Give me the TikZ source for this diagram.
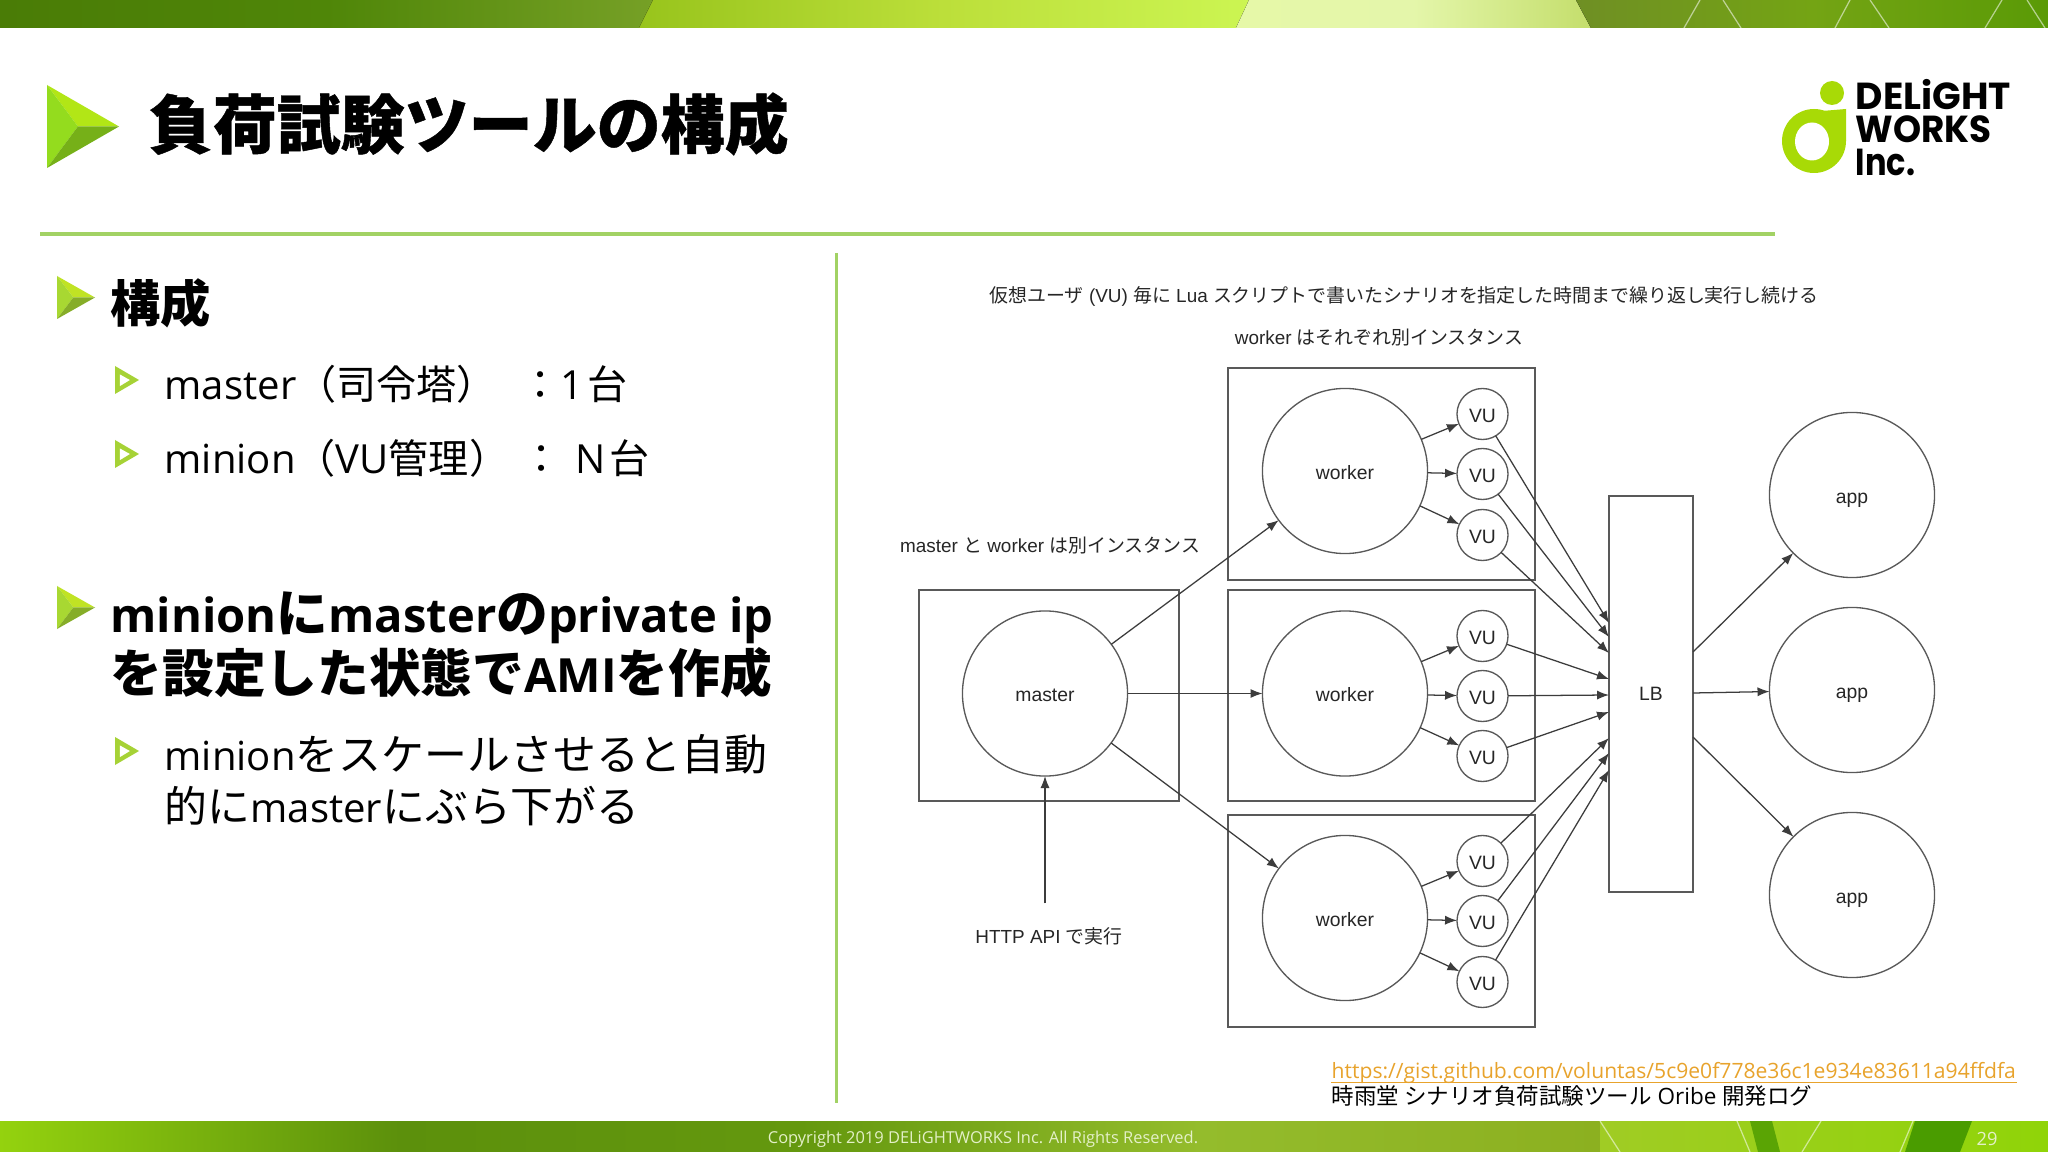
\documentclass[tikz,border=0pt]{standalone}
\usepackage{fontspec}
\usepackage{xcolor}
\usetikzlibrary{arrows.meta}
\usetikzlibrary{calc}
\setmainfont{Open Sans}
\newfontfamily\cjk{Noto Sans CJK JP}
\newfontfamily\titlecjk[BoldFeatures={FakeBold=0.7}]{Noto Sans CJK JP}
\newfontfamily\diagfont{Liberation Sans}
\newfontfamily\logofont{Poppins}
\newcommand{\jp}[1]{{\cjk #1}}
\newcommand{\hjp}[1]{{\cjk\fontsize{14.7pt}{17pt}\selectfont #1}}
\newcommand{\ijp}[1]{{\cjk\fontsize{12.2pt}{14.8pt}\selectfont #1}}
\definecolor{rulegreen}{HTML}{A2D264}
\definecolor{logogreen}{HTML}{A8DA06}
\definecolor{linkorange}{HTML}{E8A32C}
\definecolor{diagink}{HTML}{3C3C3C}
\definecolor{labelink}{HTML}{262626}
\definecolor{titlegem}{HTML}{94DC1E}
\definecolor{headgem}{HTML}{A8D832}
\definecolor{itemgem}{HTML}{A6D236}
\definecolor{footink}{HTML}{E4F0C8}
\definecolor{topa}{HTML}{4A7C06}
\definecolor{topb}{HTML}{4F8608}
\definecolor{topc}{HTML}{76A026}
\definecolor{topd}{HTML}{98C41C}
\definecolor{tope}{HTML}{BCDF3A}
\definecolor{topf}{HTML}{CCF552}
\definecolor{topg}{HTML}{E6F8A8}
\definecolor{toph}{HTML}{E4F6AA}
\definecolor{topi}{HTML}{C4DE6C}
\definecolor{topj}{HTML}{6F8F24}
\definecolor{topk}{HTML}{74A414}
\definecolor{topl}{HTML}{5A9A06}
\definecolor{bota}{HTML}{94D20E}
\definecolor{botb}{HTML}{5C900C}
\definecolor{botc}{HTML}{64980E}
\definecolor{botd}{HTML}{94BC2C}
\definecolor{bote}{HTML}{8CB020}
\definecolor{botf}{HTML}{A0CC24}
\definecolor{botg}{HTML}{90D408}
\definecolor{both}{HTML}{5AA404}
\definecolor{boti}{HTML}{4A9C00}

\begin{document}
\begin{tikzpicture}[
  x=0.01cm, y=-0.01cm,
  box/.style={draw=diagink!85, line width=0.42pt, inner sep=0pt, outer sep=0pt},
  bigcircle/.style={draw=diagink!85, circle, line width=0.38pt, minimum size=1.65cm, inner sep=0pt, outer sep=0pt, text height=4.7pt, text depth=0pt},
  vucircle/.style={draw=diagink!85, circle, line width=0.38pt, minimum size=0.51cm, inner sep=0pt, outer sep=0pt, text height=4.7pt, text depth=0pt},
  arrow/.style={-{Latex[length=3.4pt,width=2.6pt]}, draw=diagink, line width=0.36pt},
  diagtext/.style={text=labelink, font=\diagfont\fontsize{5.5pt}{7pt}\selectfont},
  captext/.style={text=labelink, font=\diagfont\fontsize{5.38pt}{7pt}\selectfont},
  headtext/.style={anchor=west, align=left, font=\fontsize{13.4pt}{17.2pt}\selectfont\bfseries},
  bodytext/.style={anchor=west, align=left, font=\fontsize{11.4pt}{14.8pt}\selectfont},
  facet/.style={draw=white, opacity=0.55, line width=0.35pt},
  gem/.pic={
    \fill[#1!72!yellow] (0,0) -- (1,0.5) -- (0.43,0.5) -- cycle;
    \fill[#1] (0,0) -- (0.43,0.5) -- (0,1) -- cycle;
    \fill[#1!80!black] (0,1) -- (1,0.5) -- (0.43,0.5) -- cycle;
  },
  smallgem/.pic={
    \fill[#1] (0,0) -- (1,0.5) -- (0,1) -- cycle;
    \fill[white] (0.2,0.3) -- (0.62,0.5) -- (0.2,0.72) -- cycle;
  }
]
\useasboundingbox (0,0) rectangle (2048,1152);
\fill[white] (0,0) rectangle (2048,1152);

% Top band
\fill[left color=topa, right color=topc, middle color=topb] (0,0) -- (653,0) -- (639,28) -- (0,28) -- cycle;
\fill[left color=topd, right color=topf, middle color=tope] (653,0) -- (1249,0) -- (1236,28) -- (639,28) -- cycle;
\fill[left color=topg, right color=topi, middle color=toph] (1249,0) -- (1576,0) -- (1591,28) -- (1236,28) -- cycle;
\fill[left color=topj, right color=topl, middle color=topk] (1576,0) -- (2048,0) -- (2048,28) -- (1591,28) -- cycle;
\draw[facet] (1700,0) -- (1684,28);
\draw[facet] (1723,0) -- (1741,28);
\draw[facet] (1850,0) -- (1835,28);
\draw[facet] (1870,0) -- (1889,28);
\draw[facet] (2002,0) -- (1985,28);
\draw[facet] (2027,0) -- (2045,28);

% Bottom band
\fill[left color=bota, right color=botc, middle color=botb] (0,1121) rectangle (800,1152);
\fill[left color=botc, right color=bote, middle color=botd] (800,1121) rectangle (1600,1152);
\fill[left color=botf, right color=botg] (1600,1121) rectangle (2048,1152);
\fill[both] (1750,1121) -- (1772,1121) -- (1780,1152) -- (1758,1152) -- cycle;
\fill[boti] (1915,1121) -- (1972,1121) -- (1960,1152) -- (1905,1152) -- cycle;
\draw[facet] (1600,1121) -- (1620,1152);
\draw[facet] (1737,1121) -- (1750,1152);
\draw[facet] (1821,1121) -- (1802,1152);
\draw[facet] (1913,1121) -- (1900,1152);

% Title and rules
\path (47,85) pic[xscale=72, yscale=83] {gem=titlegem};
\node[anchor=west, font=\fontsize{18.2pt}{22pt}\selectfont\bfseries, inner sep=0pt] (title) at (148,124) {{\titlecjk 負荷試験ツールの構成}};
\draw[rulegreen, line width=0.9pt] (40,234) -- (1775,234);
\draw[rulegreen, line width=0.85pt] (836,253) -- (836,1103);

% Logo
\fill[logogreen] (1832,93) circle [x radius=12, y radius=12];
\fill[logogreen] (1814,141) ellipse [x radius=32, y radius=32];
\fill[logogreen] (1822,111) -- (1846,109) -- (1846,141) -- (1830,130) -- cycle;
\fill[white] (1812,141.5) ellipse [x radius=17, y radius=19];
\node[anchor=north west, inner sep=0pt, align=left, font=\logofont\bfseries\fontsize{10.7pt}{9.4pt}\selectfont] (logotext) at (1855,79) {DELiGHT\\\scalebox{0.95}[1]{WORKS}\\\scalebox{0.85}[1]{Inc.}};

% Left column
\path (57,276) pic[xscale=38, yscale=43] {gem=headgem};
\node[headtext, inner sep=0pt] (head1) at (110,303) {{\cjk\fontsize{14.3pt}{17pt}\selectfont 構成}};
\path (115,366) pic[xscale=24, yscale=28] {smallgem=itemgem};
\node[bodytext, inner sep=0pt] (item1) at (164,384) {master\jp{（司令塔）\hspace{0.24cm}：}1\hspace{0.04cm}\jp{台}};
\path (115,440) pic[xscale=24, yscale=28] {smallgem=itemgem};
\node[bodytext, inner sep=0pt] (item2) at (164,458) {minion\jp{（}VU\jp{管理）\hspace{0.12cm}：}\hspace{0.04cm} N\hspace{0.04cm}\jp{台}};
\path (57,586) pic[xscale=38, yscale=43] {gem=headgem};
\node[headtext, inner sep=0pt] (head2) at (110,645) {minion\hjp{に}master\hjp{の}private ip\\\hjp{を設定した状態で}AMI\hjp{を作成}};
\path (115,737) pic[xscale=24, yscale=28] {smallgem=itemgem};
\node[bodytext, inner sep=0pt] (item3) at (164,780) {minion\ijp{をスケールさせると自動}\\\ijp{的に}master\ijp{にぶら下がる}};

% Captions
\node[captext] (cap1) at (1404,296) {\jp{仮想ユーザ} (VU) \jp{毎に} Lua \jp{スクリプトで書いたシナリオを指定した時間まで繰り返し実行し続ける}};
\node[captext] (cap2) at (1379,338) {worker \jp{はそれぞれ別インスタンス}};
\node[captext] (cap3) at (1050,546) {master \jp{と} worker \jp{は別インスタンス}};

% Instance boxes
\node[box, minimum width=3.07cm, minimum height=2.12cm] (box1) at (1381.5,474) {};
\node[box, minimum width=3.07cm, minimum height=2.11cm] (box2) at (1381.5,695.5) {};
\node[box, minimum width=3.07cm, minimum height=2.12cm] (box3) at (1381.5,921) {};
\node[box, minimum width=2.6cm, minimum height=2.11cm] (boxm) at (1049,695.5) {};

% Master and workers
\node[bigcircle, diagtext] (master) at (1045,693.5) {master};
\node[bigcircle, diagtext] (worker1) at (1345,471) {worker};
\node[bigcircle, diagtext] (worker2) at ($(worker1)+(0,222.5)$) {worker};
\node[bigcircle, diagtext] (worker3) at ($(worker1)+(0,447)$) {worker};

% VUs
\node[vucircle, diagtext] (vu11) at ($(worker1)+(137.5,-57)$) {VU};
\node[vucircle, diagtext] (vu12) at ($(worker1)+(137.5,3)$) {VU};
\node[vucircle, diagtext] (vu13) at ($(worker1)+(137.5,64)$) {VU};
\node[vucircle, diagtext] (vu21) at ($(worker2)+(137.5,-57.5)$) {VU};
\node[vucircle, diagtext] (vu22) at ($(worker2)+(137.5,2.5)$) {VU};
\node[vucircle, diagtext] (vu23) at ($(worker2)+(137.5,62.5)$) {VU};
\node[vucircle, diagtext] (vu31) at ($(worker3)+(137.5,-57)$) {VU};
\node[vucircle, diagtext] (vu32) at ($(worker3)+(137.5,3)$) {VU};
\node[vucircle, diagtext] (vu33) at ($(worker3)+(137.5,64)$) {VU};

% LB and apps
\node[box, diagtext, minimum width=0.84cm, minimum height=3.96cm] (lb) at (1651,694) {LB};
\node[bigcircle, diagtext] (app1) at (1852,495) {app};
\node[bigcircle, diagtext] (app2) at (1852,690) {app};
\node[bigcircle, diagtext] (app3) at (1852,895) {app};
\node[captext, minimum height=0.64cm] (http) at (1049,936) {HTTP API \jp{で実行}};

% Points on the LB edges
\coordinate (in11) at ($(lb.west)+(0,-71)$);
\coordinate (in12) at ($(lb.west)+(0,-57)$);
\coordinate (in13) at ($(lb.west)+(0,-41)$);
\coordinate (in21) at ($(lb.west)+(0,-15)$);
\coordinate (in22) at ($(lb.west)+(0,1)$);
\coordinate (in23) at ($(lb.west)+(0,18)$);
\coordinate (in31) at ($(lb.west)+(0,44)$);
\coordinate (in32) at ($(lb.west)+(0,59)$);
\coordinate (in33) at ($(lb.west)+(0,76)$);
\coordinate (out1) at ($(lb.east)+(0,-42)$);
\coordinate (out2) at ($(lb.east)+(0,-1)$);
\coordinate (out3) at ($(lb.east)+(0,43)$);

\draw[arrow] (master) -- (worker1);
\draw[arrow] (master) -- (worker2);
\draw[arrow] (master) -- (worker3);
\draw[arrow] (master |- http.north) -- (master);

\draw[arrow] (worker1) -- (vu11);
\draw[arrow] (worker1) -- (vu12);
\draw[arrow] (worker1) -- (vu13);
\draw[arrow] (worker2) -- (vu21);
\draw[arrow] (worker2) -- (vu22);
\draw[arrow] (worker2) -- (vu23);
\draw[arrow] (worker3) -- (vu31);
\draw[arrow] (worker3) -- (vu32);
\draw[arrow] (worker3) -- (vu33);

\draw[arrow] (vu11) -- (in11);
\draw[arrow] (vu12) -- (in12);
\draw[arrow] (vu13) -- (in13);
\draw[arrow] (vu21) -- (in21);
\draw[arrow] (vu22) -- (in22);
\draw[arrow] (vu23) -- (in23);
\draw[arrow] (vu31) -- (in31);
\draw[arrow] (vu32) -- (in32);
\draw[arrow] (vu33) -- (in33);

\draw[arrow] (out1) -- (app1);
\draw[arrow] (out2) -- (app2);
\draw[arrow] (out3) -- (app3);

% Source and footer
\node[anchor=base west, inner sep=0pt, text=linkorange, font=\fontsize{6pt}{8pt}\selectfont] (link) at (1331,1078) {https://gist.github.com/voluntas/5c9e0f778e36c1e934e83611a94ffdfa};
\draw[linkorange, line width=0.55pt] ($(link.base west)+(0,4.5)$) -- ($(link.base east)+(0,4.5)$);
\node[anchor=west, inner sep=0pt, font=\fontsize{6.4pt}{8pt}\selectfont] (source) at (1331,1096) {\jp{時雨堂 シナリオ負荷試験ツール} Oribe \jp{開発ログ}};
\node[text=footink, inner sep=0pt, font=\fontsize{4.67pt}{6pt}\selectfont] (copyright) at (983,1139) {Copyright 2019 DELiGHTWORKS Inc. All Rights Reserved.};
\node[text=footink, inner sep=0pt, font=\fontsize{5.2pt}{6pt}\selectfont] (pageno) at (1987,1139) {29};

\end{tikzpicture}
\end{document}
